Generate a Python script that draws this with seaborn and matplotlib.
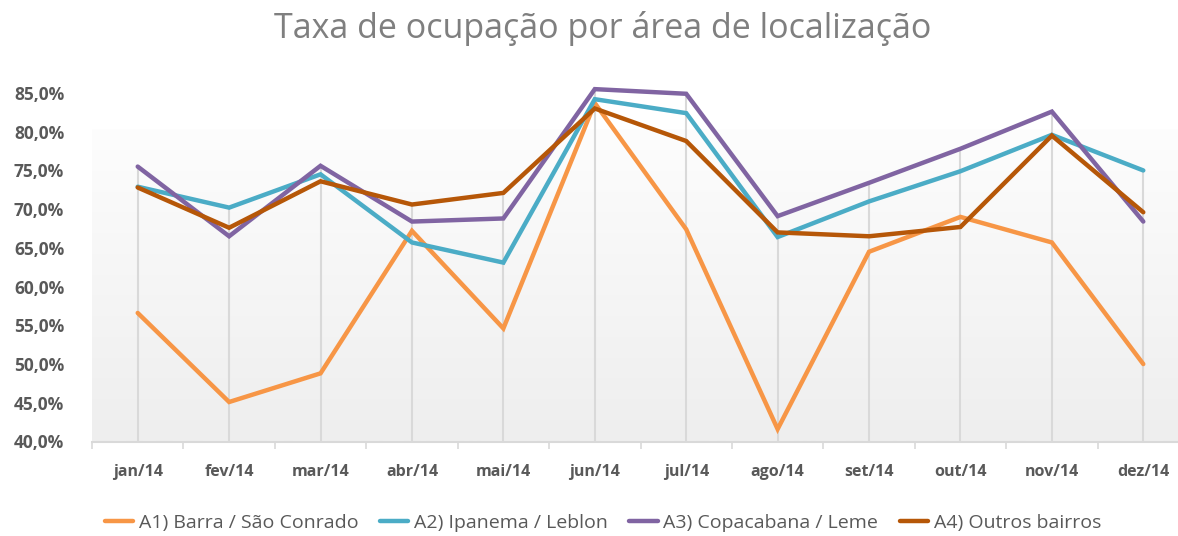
import numpy as np
import pandas as pd
import matplotlib
matplotlib.use("Agg")
import matplotlib.pyplot as plt
from matplotlib.colors import LinearSegmentedColormap
import seaborn as sns

months = ["jan/14", "fev/14", "mar/14", "abr/14", "mai/14", "jun/14",
          "jul/14", "ago/14", "set/14", "out/14", "nov/14", "dez/14"]
series_names = ["A1) Barra / São Conrado", "A2) Ipanema / Leblon",
                "A3) Copacabana / Leme", "A4) Outros bairros"]
a1 = [56.6, 45.1, 48.8, 67.2, 54.6, 83.7, 67.4, 41.6, 64.5, 69.0, 65.7, 50.0]
a2 = [72.9, 70.2, 74.5, 65.7, 63.1, 84.2, 82.4, 66.4, 71.0, 74.9, 79.6, 75.0]
a3 = [75.5, 66.5, 75.6, 68.4, 68.8, 85.5, 84.9, 69.1, 73.4, 77.8, 82.6, 68.4]
a4 = [72.8, 67.6, 73.6, 70.6, 72.1, 83.0, 78.8, 67.0, 66.5, 67.7, 79.5, 69.6]
colors = ["#F79646", "#4BACC6", "#8064A2", "#B65708"]
yticks = [40, 45, 50, 55, 60, 65, 70, 75, 80, 85]
title = "Taxa de ocupação por área de localização"

rows = []
for name, vals in zip(series_names, [a1, a2, a3, a4]):
    for i, v in enumerate(vals):
        rows.append({"pos": i, "mes": months[i], "serie": name, "valor": v})
df = pd.DataFrame(rows)

sns.set_style("white")
plt.rcParams['font.family'] = ['Open Sans', 'DejaVu Sans']

W, H = 1178, 536
fig = plt.figure(figsize=(W / 100, H / 100), dpi=100)
ax = fig.add_axes([92 / W, (H - 441.5) / H, (1189 - 92) / W, (441.5 - 93) / H])

# background gradient (plot area)
cmap = LinearSegmentedColormap.from_list("bg", ["#fdfdfd", "#eeeeee"])
ax.imshow(np.linspace(0, 1, 256).reshape(-1, 1), cmap=cmap, aspect="auto",
          extent=[-0.5, 11.5, 40, 80.2], origin="upper", zorder=0)

sns.lineplot(data=df, x="pos", y="valor", hue="serie", palette=colors,
             hue_order=series_names, linewidth=3.2, sort=False, ax=ax,
             zorder=3)
for ln in ax.get_lines():
    ln.set_clip_on(False)
    ln.set_solid_joinstyle("miter")

ax.set_xlim(-0.5, 11.5)
ax.set_ylim(40, 85)
ax.set_xlabel("")
ax.set_ylabel("")

# drop lines from highest point of each category down to the axis
tops = df.groupby("pos")["valor"].max()
ax.vlines(tops.index, 40, tops.values, color="#d9d9d9", linewidth=1.5,
          zorder=1, clip_on=False)

ax.set_xticks(range(len(months)))
ax.set_xticklabels(months, fontsize=11.5, fontweight="bold", color="#595959")
ax.set_xticks(np.arange(-0.5, 12, 1), minor=True)
ax.tick_params(axis="x", which="major", length=0, pad=16)
ax.tick_params(axis="x", which="minor", length=5, width=1.2, color="#d9d9d9",
               direction="out", bottom=True)

ax.set_yticks(yticks)
ax.set_yticklabels([f"{v},0%" for v in yticks], fontsize=12.5,
                   fontweight="bold", color="#595959")
ax.tick_params(axis="y", length=0, pad=20)

for s in ["top", "right", "left"]:
    ax.spines[s].set_visible(False)
ax.spines["bottom"].set_color("#d9d9d9")
ax.spines["bottom"].set_linewidth(1.5)

handles, labels = ax.get_legend_handles_labels()
leg = ax.get_legend()
if leg is not None:
    leg.remove()
fig.legend(handles, labels, loc="center", bbox_to_anchor=(603 / W, (H - 523) / H),
           ncol=4, frameon=False, fontsize=14, handlelength=1.45,
           handletextpad=0.3, columnspacing=1.1, labelcolor="#595959")

fig.text(603 / W, (H - 29) / H, title, ha="center", va="center",
         fontsize=24.5, color="#7f7f7f")

fig.savefig("out.png", dpi=100)
